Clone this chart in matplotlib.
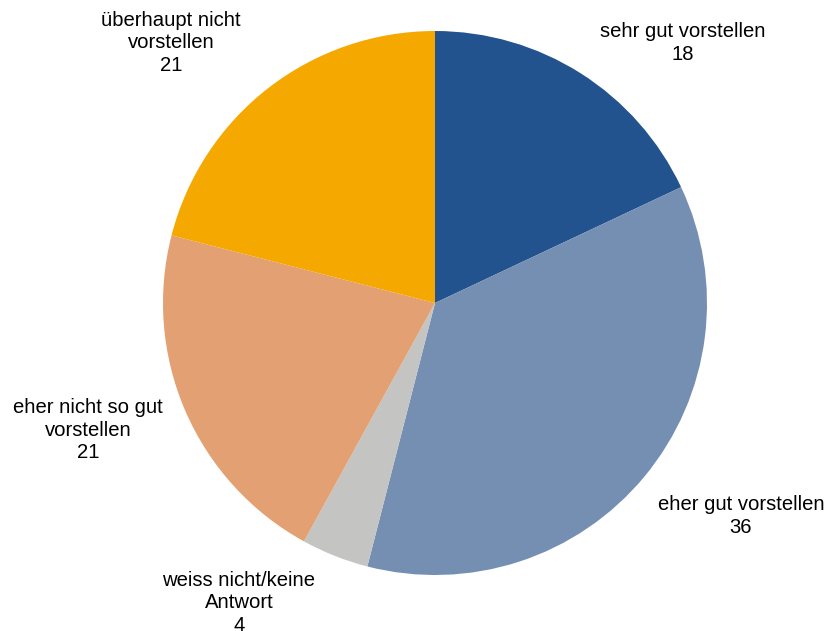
import matplotlib.pyplot as plt

plt.rcParams['font.family'] = ['Liberation Sans', 'DejaVu Sans']

# answer categories (clockwise from 12 o'clock) and shares in percent
categories = ["sehr gut vorstellen", "eher gut vorstellen", "weiss nicht/keine\nAntwort",
              "eher nicht so gut\nvorstellen", "überhaupt nicht\nvorstellen"]
values = [18, 36, 4, 21, 21]
colors = ["#23538f", "#758fb3", "#c4c4c2", "#e3a073", "#f5a800"]

# label anchor points in figure pixels (x from left, y from top)
label_pos = [(683, 43), (741, 516), (239, 603), (88, 430), (171, 43)]

W, H = 827, 631
fig = plt.figure(figsize=(W / 100, H / 100), dpi=100)

cx, cy, r = 435, 303, 272
ax = fig.add_axes([(cx - r) / W, (H - cy - r) / H, 2 * r / W, 2 * r / H])
ax.pie(values, colors=colors, startangle=90, counterclock=False, radius=1,
       wedgeprops=dict(linewidth=0))
ax.set_xlim(-1, 1)
ax.set_ylim(-1, 1)
ax.set_aspect('equal')
ax.axis('off')

for name, val, (px, py) in zip(categories, values, label_pos):
    fig.text(px / W, 1 - py / H, f"{name}\n{val}", ha='center', va='center',
             fontsize=14.6, color='black', linespacing=1.25)

fig.savefig("out.png", dpi=100)
